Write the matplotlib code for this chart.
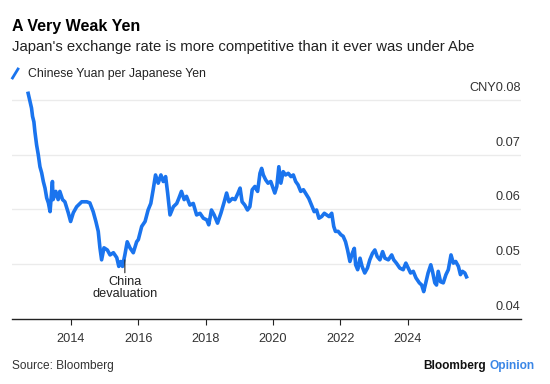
import matplotlib
matplotlib.use("Agg")
from matplotlib import pyplot as plt
from matplotlib.lines import Line2D
from matplotlib.transforms import blended_transform_factory

# CNY per JPY (fractional year, value)
years = [
    2012.73, 2012.83, 2012.86, 2012.90, 2012.93, 2012.98, 2013.03, 2013.08, 2013.13, 2013.18,
    2013.23, 2013.28, 2013.33, 2013.38, 2013.45, 2013.47, 2013.55, 2013.62, 2013.67, 2013.75,
    2013.82, 2013.92, 2013.99, 2014.07, 2014.17, 2014.32, 2014.47, 2014.56, 2014.66, 2014.74,
    2014.81, 2014.86, 2014.91, 2014.98, 2015.08, 2015.16, 2015.26, 2015.36, 2015.42, 2015.48,
    2015.53, 2015.60, 2015.67, 2015.75, 2015.85, 2015.95, 2016.00, 2016.10, 2016.20, 2016.29,
    2016.37, 2016.44, 2016.51, 2016.59, 2016.67, 2016.74, 2016.81, 2016.87, 2016.94, 2017.04,
    2017.14, 2017.20, 2017.28, 2017.36, 2017.43, 2017.53, 2017.63, 2017.73, 2017.83, 2017.93,
    2018.03, 2018.09, 2018.17, 2018.25, 2018.35, 2018.45, 2018.55, 2018.62, 2018.69, 2018.79,
    2018.87, 2018.96, 2019.02, 2019.08, 2019.16, 2019.24, 2019.31, 2019.38, 2019.46, 2019.54,
    2019.61, 2019.66, 2019.71, 2019.78, 2019.85, 2019.93, 2020.00, 2020.05, 2020.11, 2020.17,
    2020.23, 2020.30, 2020.37, 2020.45, 2020.53, 2020.60, 2020.67, 2020.74, 2020.82, 2020.90,
    2020.99, 2021.06, 2021.14, 2021.22, 2021.29, 2021.36, 2021.44, 2021.52, 2021.59, 2021.66,
    2021.74, 2021.80, 2021.85, 2021.93, 2022.01, 2022.08, 2022.15, 2022.21, 2022.28, 2022.35,
    2022.41, 2022.45, 2022.51, 2022.58, 2022.64, 2022.72, 2022.80, 2022.87, 2022.95, 2023.02,
    2023.09, 2023.17, 2023.25, 2023.32, 2023.42, 2023.52, 2023.58, 2023.66, 2023.76, 2023.86,
    2023.94, 2024.01, 2024.08, 2024.16, 2024.24, 2024.34, 2024.41, 2024.47, 2024.53, 2024.60,
    2024.68, 2024.73, 2024.80, 2024.85, 2024.90, 2024.97, 2025.05, 2025.13, 2025.20, 2025.28,
    2025.35, 2025.42, 2025.50, 2025.56, 2025.62, 2025.69, 2025.74,
]
cny_per_jpy = [
    0.0812, 0.0785, 0.0770, 0.0760, 0.0742, 0.0718, 0.0700, 0.0678, 0.0667, 0.0651,
    0.0639, 0.0621, 0.0612, 0.0596, 0.0651, 0.0618, 0.0633, 0.0618, 0.0633, 0.0618,
    0.0614, 0.0594, 0.0578, 0.0594, 0.0605, 0.0614, 0.0614, 0.0612, 0.0596, 0.0578,
    0.0560, 0.0530, 0.0508, 0.0530, 0.0526, 0.0517, 0.0521, 0.0512, 0.0496, 0.0505,
    0.0496, 0.0517, 0.0541, 0.0530, 0.0521, 0.0541, 0.0545, 0.0569, 0.0578, 0.0599,
    0.0611, 0.0636, 0.0663, 0.0648, 0.0663, 0.0651, 0.0660, 0.0630, 0.0590, 0.0605,
    0.0611, 0.0620, 0.0633, 0.0618, 0.0624, 0.0608, 0.0611, 0.0590, 0.0593, 0.0584,
    0.0581, 0.0572, 0.0599, 0.0590, 0.0575, 0.0593, 0.0614, 0.0630, 0.0614, 0.0620,
    0.0618, 0.0630, 0.0639, 0.0614, 0.0608, 0.0599, 0.0605, 0.0636, 0.0642, 0.0633,
    0.0666, 0.0675, 0.0663, 0.0654, 0.0648, 0.0651, 0.0639, 0.0630, 0.0642, 0.0678,
    0.0648, 0.0669, 0.0663, 0.0666, 0.0660, 0.0663, 0.0651, 0.0645, 0.0633, 0.0636,
    0.0627, 0.0620, 0.0608, 0.0596, 0.0599, 0.0584, 0.0587, 0.0593, 0.0590, 0.0587,
    0.0593, 0.0569, 0.0560, 0.0560, 0.0554, 0.0551, 0.0541, 0.0526, 0.0505, 0.0520,
    0.0529, 0.0499, 0.0490, 0.0511, 0.0496, 0.0484, 0.0493, 0.0508, 0.0520, 0.0526,
    0.0514, 0.0508, 0.0523, 0.0511, 0.0508, 0.0517, 0.0508, 0.0502, 0.0493, 0.0490,
    0.0502, 0.0493, 0.0484, 0.0487, 0.0475, 0.0466, 0.0462, 0.0450, 0.0466, 0.0484,
    0.0499, 0.0487, 0.0466, 0.0462, 0.0487, 0.0468, 0.0466, 0.0481, 0.0490, 0.0517,
    0.0502, 0.0505, 0.0496, 0.0481, 0.0487, 0.0484, 0.0477,
]
year_ticks = [2014, 2016, 2018, 2020, 2022, 2024]
value_ticks = [0.04, 0.05, 0.06, 0.07, 0.08]
value_labels = ["0.04", "0.05", "0.06", "0.07", "CNY0.08"]
note_year, note_value = 2015.60, 0.0508

BLUE = "#1a74ee"
plt.rcParams["font.family"] = ["Liberation Sans", "DejaVu Sans"]

fig = plt.figure(figsize=(5.5, 3.84), dpi=100)
ax = fig.add_axes([0.0218, 0.1693, 0.925, 0.599])

ax.plot(years, cny_per_jpy, color=BLUE, lw=2.6, solid_joinstyle="round", zorder=3)

ax.set_xlim(2012.25, 2027.35)
ax.set_ylim(0.04, 0.082)

for v in value_ticks[1:]:
    ax.axhline(v, color="#ebebeb", lw=1.0, zorder=1)

trans = blended_transform_factory(ax.transAxes, ax.transData)
for v, lab in zip(value_ticks, value_labels):
    ax.text(1.0, v + 0.0011, lab, transform=trans, ha="right", va="bottom",
            fontsize=9.2, color="#333333")

for s in ["top", "right", "left"]:
    ax.spines[s].set_visible(False)
ax.spines["bottom"].set_color("#222222")
ax.spines["bottom"].set_linewidth(1.0)
ax.set_yticks([])
ax.set_xticks(year_ticks)
ax.set_xticklabels([str(y) for y in year_ticks])
ax.tick_params(axis="x", length=4, width=0.8, color="#222222", pad=6,
               labelsize=9.2, labelcolor="#333333")

ax.annotate("China\ndevaluation", xy=(note_year, note_value), xytext=(note_year, 0.0457),
            ha="center", va="center", fontsize=9.2, color="#222222", linespacing=1.05,
            arrowprops=dict(arrowstyle="-", color="#222222", lw=0.8, shrinkA=0, shrinkB=0))

fig.text(12 / 550, 1 - 27 / 384, "A Very Weak Yen", fontsize=11.5, fontweight="bold",
         color="#000000", va="center", ha="left")
fig.text(12 / 550, 1 - 47 / 384, "Japan's exchange rate is more competitive than it ever was under Abe",
         fontsize=10.7, color="#222222", va="center", ha="left")
fig.add_artist(Line2D([12.5 / 550, 18 / 550], [1 - 78 / 384, 1 - 69 / 384],
                      color=BLUE, lw=2.0, transform=fig.transFigure))
fig.text(28 / 550, 1 - 73.5 / 384, "Chinese Yuan per Japanese Yen", fontsize=8.8,
         color="#222222", va="center", ha="left")
fig.text(12 / 550, 1 - 366 / 384, "Source: Bloomberg", fontsize=8.6, color="#333333",
         va="center", ha="left")
fig.text(486 / 550, 1 - 366 / 384, "Bloomberg", fontsize=8.6, fontweight="bold",
         color="#111111", va="center", ha="right")
fig.text(489 / 550, 1 - 366 / 384, "Opinion", fontsize=8.6, fontweight="bold",
         color="#3a86e6", va="center", ha="left")

fig.savefig("out.png", dpi=100)
